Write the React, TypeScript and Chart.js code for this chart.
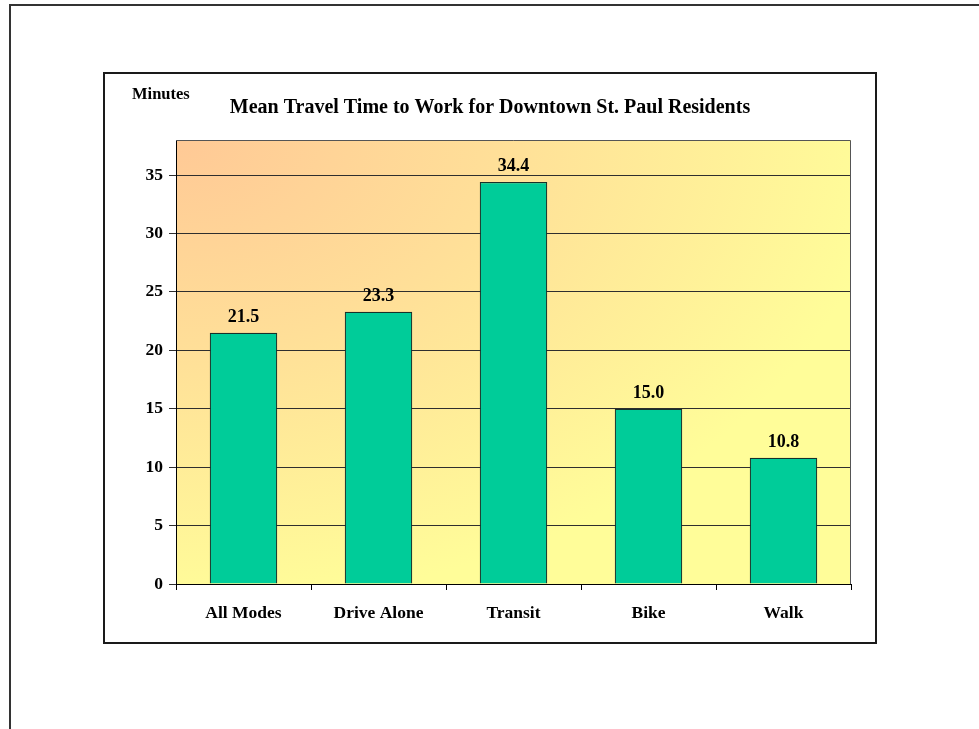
import React, { useEffect, useRef } from "react";
import { Chart, registerables } from "chart.js";

Chart.register(...registerables);

const categories = ["All Modes", "Drive Alone", "Transit", "Bike", "Walk"];
const minutes = [21.5, 23.3, 34.4, 15.0, 10.8];
const yTicks = [0, 5, 10, 15, 20, 25, 30, 35];
const yMax = 38;
const chartTitle = "Mean Travel Time to Work for Downtown St. Paul Residents";
const unitLabel = "Minutes";

const SERIF = '"Liberation Serif", "Times New Roman", serif';

const framePlugin = {
  id: "frames",
  beforeDraw(chart: any) {
    const { ctx, chartArea: a, width, height } = chart;
    ctx.save();
    ctx.fillStyle = "#ffffff";
    ctx.fillRect(0, 0, width, height);

    // page frame (top and left edges)
    ctx.strokeStyle = "#333333";
    ctx.lineWidth = 2;
    ctx.beginPath();
    ctx.moveTo(width, 5);
    ctx.lineTo(10, 5);
    ctx.lineTo(10, height);
    ctx.stroke();

    // chart box
    ctx.strokeStyle = "#1a1a1a";
    ctx.lineWidth = 2;
    ctx.strokeRect(104, 73, 772, 570);

    // plot area gradient, fanning out from the top-left corner
    const w = a.right - a.left;
    const h = a.bottom - a.top;
    ctx.save();
    ctx.beginPath();
    ctx.rect(a.left, a.top, w, h);
    ctx.clip();
    ctx.translate(a.left, a.top);
    ctx.scale(w, h);
    const g = ctx.createRadialGradient(0, 0, 0, 0, 0, 1.05);
    g.addColorStop(0, "#ffc996");
    g.addColorStop(0.45, "#ffdf98");
    g.addColorStop(1, "#fffd99");
    ctx.fillStyle = g;
    ctx.fillRect(0, 0, 1.5, 1.5);
    ctx.restore();
    ctx.restore();
  },
  afterDraw(chart: any) {
    const { ctx, chartArea: a } = chart;
    ctx.save();
    // plot area border
    ctx.strokeStyle = "#555555";
    ctx.lineWidth = 1;
    ctx.beginPath();
    ctx.moveTo(a.left, a.top + 0.5);
    ctx.lineTo(a.right - 0.5, a.top + 0.5);
    ctx.lineTo(a.right - 0.5, a.bottom);
    ctx.stroke();

    // value labels above bars
    ctx.fillStyle = "#000000";
    ctx.font = `bold 18px ${SERIF}`;
    ctx.textAlign = "center";
    ctx.textBaseline = "alphabetic";
    const meta = chart.getDatasetMeta(0);
    meta.data.forEach((bar: any, i: number) => {
      ctx.fillText(minutes[i].toFixed(1), bar.x, bar.y - 11);
    });

    // unit label and title
    ctx.font = `bold 16.5px ${SERIF}`;
    ctx.textAlign = "left";
    ctx.fillText(unitLabel, 132, 99);
    ctx.font = `bold 20px ${SERIF}`;
    ctx.textAlign = "center";
    ctx.fillText(chartTitle, 490, 113);
    ctx.restore();
  },
};

export default function App() {
  const ref = useRef<HTMLCanvasElement | null>(null);

  useEffect(() => {
    if (!ref.current) return;
    const chart = new Chart(ref.current, {
      type: "bar",
      data: {
        labels: categories,
        datasets: [
          {
            data: minutes,
            backgroundColor: "#00cc99",
            borderColor: "#16302a",
            borderWidth: 1.2,
            categoryPercentage: 1,
            barPercentage: 0.5,
          },
        ],
      },
      options: {
        responsive: false,
        animation: false,
        layout: { padding: { left: 103, top: 140, right: 128, bottom: 86 } },
        plugins: {
          legend: { display: false },
          tooltip: { enabled: false },
          title: { display: false },
        },
        scales: {
          x: {
            offset: true,
            grid: {
              offset: true,
              drawOnChartArea: false,
              drawTicks: true,
              tickLength: 6,
              color: "#000000",
            },
            border: { display: true, color: "#000000", width: 1 },
            ticks: {
              color: "#000000",
              font: { family: SERIF, size: 17.5, weight: "bold" },
              padding: 13,
              maxRotation: 0,
            },
            afterFit(scale: any) {
              scale.height = 59;
            },
          },
          y: {
            min: 0,
            max: yMax,
            afterBuildTicks(scale: any) {
              scale.ticks = yTicks.map((v) => ({ value: v }));
            },
            grid: {
              color: "#2e2e2e",
              tickLength: 7,
              drawTicks: true,
            },
            border: { display: true, color: "#000000", width: 1 },
            ticks: {
              color: "#000000",
              font: { family: SERIF, size: 17.5, weight: "bold" },
              padding: 6,
            },
            afterFit(scale: any) {
              scale.width = 73;
            },
          },
        },
      },
      plugins: [framePlugin],
    });
    return () => chart.destroy();
  }, []);

  return (
    <div style={{ position: "absolute", left: 0, top: 0, width: 979, height: 729 }}>
      <canvas ref={ref} width={979} height={729} style={{ display: "block" }} />
    </div>
  );
}
